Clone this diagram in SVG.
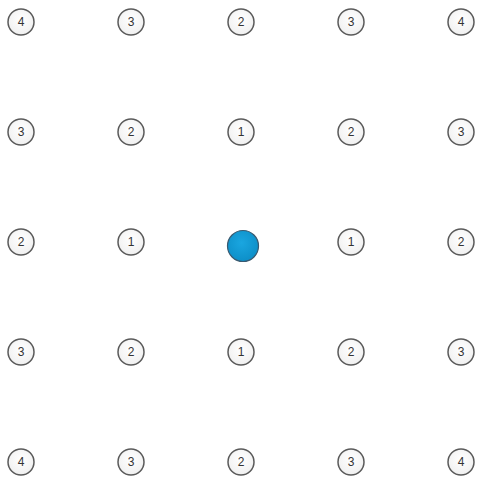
<svg xmlns="http://www.w3.org/2000/svg" width="482" height="482" viewBox="0 0 482 482">
<defs>
<radialGradient id="g" cx="50%" cy="40%" r="60%">
<stop offset="0%" stop-color="#ffffff"/>
<stop offset="100%" stop-color="#f0f0f0"/>
</radialGradient>
<radialGradient id="b" cx="45%" cy="40%" r="60%">
<stop offset="0%" stop-color="#1aa6e0"/>
<stop offset="100%" stop-color="#0d8fc8"/>
</radialGradient>
</defs>
<style>
.n circle{fill:url(#g);stroke:#5a5a5a;stroke-width:1.5}
.n text{font-family:"Liberation Sans",Arial,sans-serif;font-size:12px;fill:#333;text-anchor:middle;dominant-baseline:central}
</style>
<rect width="482" height="482" fill="#fff"/>
<g id="connectors"/>
<g id="n00" class="n"><circle cx="21" cy="22" r="13"/><text x="21" y="22">4</text></g>
<g id="n01" class="n"><circle cx="131" cy="22" r="13"/><text x="131" y="22">3</text></g>
<g id="n02" class="n"><circle cx="241" cy="22" r="13"/><text x="241" y="22">2</text></g>
<g id="n03" class="n"><circle cx="351" cy="22" r="13"/><text x="351" y="22">3</text></g>
<g id="n04" class="n"><circle cx="461" cy="22" r="13"/><text x="461" y="22">4</text></g>
<g id="n10" class="n"><circle cx="21" cy="132" r="13"/><text x="21" y="132">3</text></g>
<g id="n11" class="n"><circle cx="131" cy="132" r="13"/><text x="131" y="132">2</text></g>
<g id="n12" class="n"><circle cx="241" cy="132" r="13"/><text x="241" y="132">1</text></g>
<g id="n13" class="n"><circle cx="351" cy="132" r="13"/><text x="351" y="132">2</text></g>
<g id="n14" class="n"><circle cx="461" cy="132" r="13"/><text x="461" y="132">3</text></g>
<g id="n20" class="n"><circle cx="21" cy="242" r="13"/><text x="21" y="242">2</text></g>
<g id="n21" class="n"><circle cx="131" cy="242" r="13"/><text x="131" y="242">1</text></g>
<g id="center"><circle cx="243" cy="246" r="15.5" fill="url(#b)" stroke="#3a5a70" stroke-width="1.2"/></g>
<g id="n23" class="n"><circle cx="351" cy="242" r="13"/><text x="351" y="242">1</text></g>
<g id="n24" class="n"><circle cx="461" cy="242" r="13"/><text x="461" y="242">2</text></g>
<g id="n30" class="n"><circle cx="21" cy="352" r="13"/><text x="21" y="352">3</text></g>
<g id="n31" class="n"><circle cx="131" cy="352" r="13"/><text x="131" y="352">2</text></g>
<g id="n32" class="n"><circle cx="241" cy="352" r="13"/><text x="241" y="352">1</text></g>
<g id="n33" class="n"><circle cx="351" cy="352" r="13"/><text x="351" y="352">2</text></g>
<g id="n34" class="n"><circle cx="461" cy="352" r="13"/><text x="461" y="352">3</text></g>
<g id="n40" class="n"><circle cx="21" cy="462" r="13"/><text x="21" y="462">4</text></g>
<g id="n41" class="n"><circle cx="131" cy="462" r="13"/><text x="131" y="462">3</text></g>
<g id="n42" class="n"><circle cx="241" cy="462" r="13"/><text x="241" y="462">2</text></g>
<g id="n43" class="n"><circle cx="351" cy="462" r="13"/><text x="351" y="462">3</text></g>
<g id="n44" class="n"><circle cx="461" cy="462" r="13"/><text x="461" y="462">4</text></g>
</svg>
